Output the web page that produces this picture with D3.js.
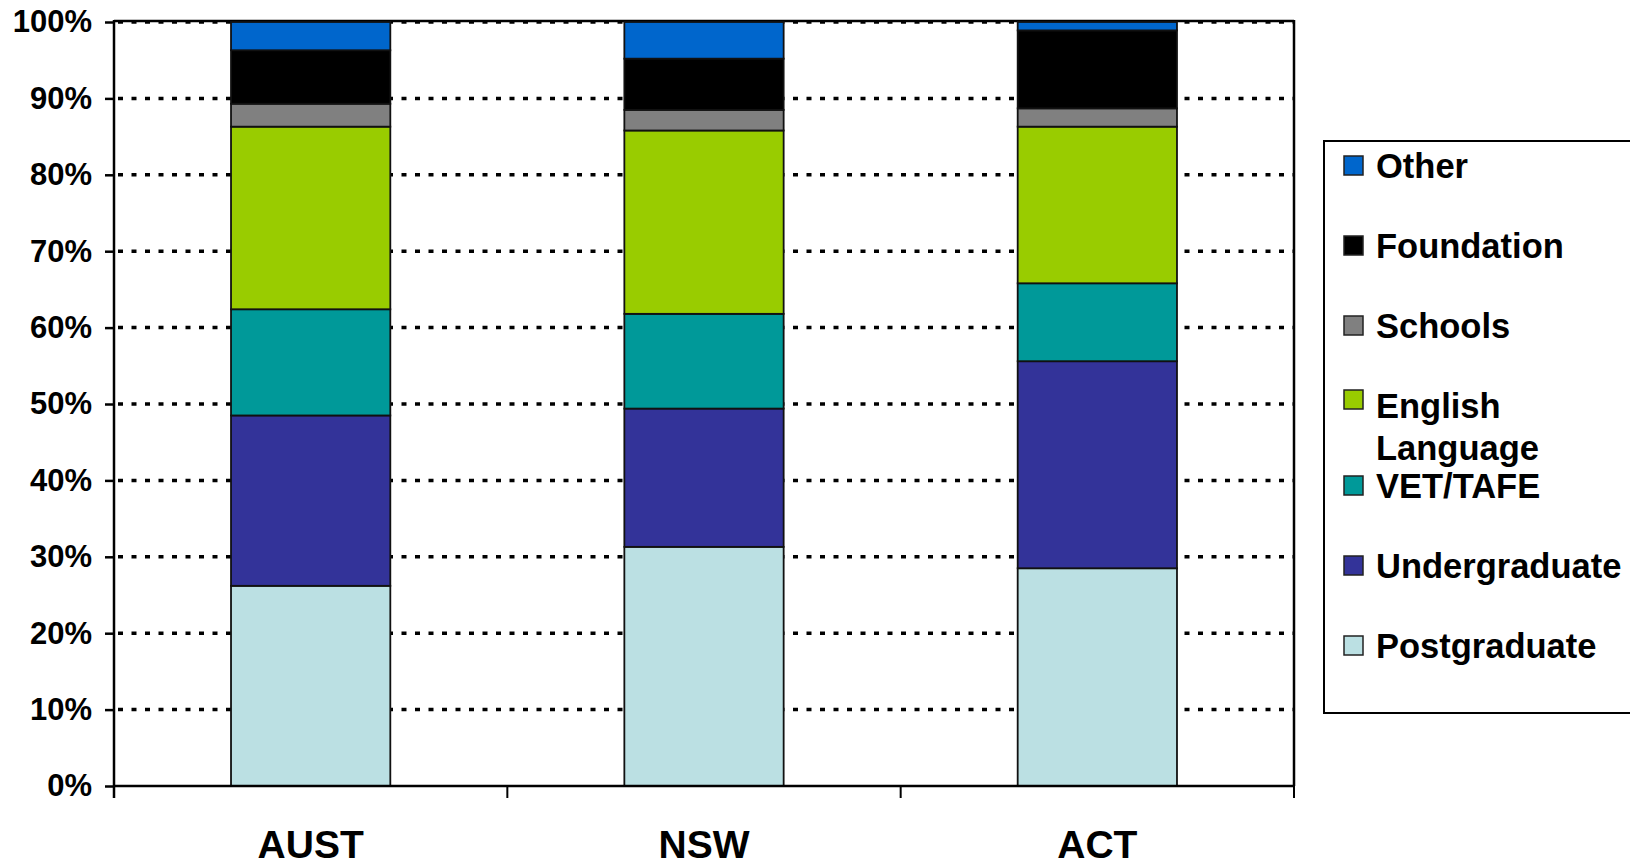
<!DOCTYPE html>
<html>
<head>
<meta charset="utf-8">
<script src="https://cdn.jsdelivr.net/npm/d3@7"></script>
<style>
  body { margin: 0; background: #fff; }
  svg { display: block; font-family: "Liberation Sans", Arial, sans-serif; font-weight: bold; }
</style>
</head>
<body>
<div id="chart"></div>
<script>
// categories and series (percent share, bottom to top)
var categories = ["AUST", "NSW", "ACT"];
var seriesNames = ["Postgraduate", "Undergraduate", "VET/TAFE", "English Language", "Schools", "Foundation", "Other"];
var seriesColors = ["#bbe0e3", "#333399", "#009999", "#99cc00", "#808080", "#000000", "#0066cc"];

var postgraduate  = [26.2, 31.3, 28.5];
var undergraduate = [22.3, 18.1, 27.1];
var vetTafe       = [13.9, 12.4, 10.2];
var english       = [23.9, 24.0, 20.5];
var schools       = [3.0, 2.7, 2.4];
var foundation    = [7.0, 6.7, 10.2];
var other         = [3.7, 4.8, 1.1];

var yTicks = [0, 10, 20, 30, 40, 50, 60, 70, 80, 90, 100];

// build table for d3.stack
var seriesValues = [postgraduate, undergraduate, vetTafe, english, schools, foundation, other];
var table = categories.map(function(c, i) {
    var row = { cat: c };
    seriesNames.forEach(function(s, j) { row[s] = seriesValues[j][i]; });
    return row;
});

// dimensions (plot area edges)
var W = 1630, H = 865;
var pLeft = 114, pRight = 1294, pTop = 22, pBottom = 786;

var svg = d3.select("#chart").append("svg")
    .attr("width", W)
    .attr("height", H);

var x = d3.scaleBand()
    .domain(categories)
    .range([pLeft, pRight])
    .paddingInner(0.595)
    .paddingOuter(0.2975);

var y = d3.scaleLinear()
    .domain([0, 100])
    .range([pBottom, pTop]);

var color = d3.scaleOrdinal().domain(seriesNames).range(seriesColors);

// gridlines (dotted)
svg.append("g")
    .selectAll("line")
    .data(yTicks.filter(function(d) { return d > 0; }))
    .enter()
    .append("line")
    .attr("x1", pLeft + 4)
    .attr("x2", pRight)
    .attr("y1", function(d) { return y(d); })
    .attr("y2", function(d) { return y(d); })
    .attr("stroke", "#000")
    .attr("stroke-width", 3.5)
    .attr("stroke-dasharray", "5,8.5");

// plot frame top and right
svg.append("line")
    .attr("x1", pLeft).attr("x2", pRight)
    .attr("y1", pTop - 1).attr("y2", pTop - 1)
    .attr("stroke", "#000").attr("stroke-width", 2.5);
svg.append("line")
    .attr("x1", pRight).attr("x2", pRight)
    .attr("y1", pTop - 2).attr("y2", pBottom)
    .attr("stroke", "#000").attr("stroke-width", 2.5);

// stacked bars
var stacked = d3.stack().keys(seriesNames)(table);

svg.append("g")
    .selectAll("g")
    .data(stacked)
    .enter()
    .append("g")
    .attr("fill", function(d) { return color(d.key); })
    .selectAll("rect")
    .data(function(d) { return d; })
    .enter()
    .append("rect")
    .attr("x", function(d) { return x(d.data.cat); })
    .attr("width", x.bandwidth())
    .attr("y", function(d) { return y(d[1]); })
    .attr("height", function(d) { return y(d[0]) - y(d[1]); })
    .attr("stroke", "#111")
    .attr("stroke-width", 1.8);

// Y axis
var yAxis = svg.append("g")
    .attr("transform", "translate(" + pLeft + ",0)")
    .call(d3.axisLeft(y)
        .tickValues(yTicks)
        .tickSize(9)
        .tickSizeOuter(0)
        .tickPadding(13)
        .tickFormat(function(d) { return d + "%"; }));
yAxis.select(".domain").attr("stroke-width", 2.5).attr("d", "M0," + (pTop - 2) + "V" + (pBottom + 12));
yAxis.selectAll(".tick line").attr("stroke-width", 2.5);
yAxis.selectAll("text")
    .style("font-size", "31px")
    .style("font-family", "'Liberation Sans', Arial, sans-serif")
    .style("font-weight", "bold")
    .attr("fill", "#000");

// X axis
var xAxis = svg.append("g")
    .attr("transform", "translate(0," + pBottom + ")")
    .call(d3.axisBottom(x).tickSize(0).tickSizeOuter(0));
xAxis.select(".domain").attr("stroke-width", 2.5).attr("d", "M" + pLeft + ",0H" + pRight);
xAxis.selectAll("text")
    .attr("y", 72)
    .attr("dy", 0)
    .style("font-size", "39px")
    .style("font-family", "'Liberation Sans', Arial, sans-serif")
    .style("font-weight", "bold")
    .attr("fill", "#000");

// category boundary ticks
svg.append("g")
    .selectAll("line")
    .data(d3.range(1, categories.length + 1))
    .enter()
    .append("line")
    .attr("x1", function(i) { return pLeft + i * x.step(); })
    .attr("x2", function(i) { return pLeft + i * x.step(); })
    .attr("y1", pBottom)
    .attr("y2", pBottom + 12)
    .attr("stroke", "#000")
    .attr("stroke-width", 2);

// legend
var legend = svg.append("g");
legend.append("rect")
    .attr("x", 1324)
    .attr("y", 141)
    .attr("width", 400)
    .attr("height", 572)
    .attr("fill", "#fff")
    .attr("stroke", "#000")
    .attr("stroke-width", 2);

var legendItems = seriesNames.slice().reverse();

var item = legend.selectAll(".item")
    .data(legendItems)
    .enter()
    .append("g")
    .attr("class", "item")
    .attr("transform", function(d, i) { return "translate(0," + (166 + i * 80) + ")"; });

item.append("rect")
    .attr("x", 1344)
    .attr("y", function(d) { return d === "English Language" ? -16 : -10; })
    .attr("width", 19)
    .attr("height", 19)
    .attr("fill", function(d) { return color(d); })
    .attr("stroke", "#222")
    .attr("stroke-width", 1.5);

item.append("text")
    .attr("x", 1376)
    .attr("y", 12)
    .style("font-size", "34.5px")
    .attr("fill", "#000")
    .each(function(d) {
        var t = d3.select(this);
        if (d === "English Language") {
            t.append("tspan").attr("x", 1376).text("English");
            t.append("tspan").attr("x", 1376).attr("dy", 42).text("Language");
        } else {
            t.text(d);
        }
    });
</script>
</body>
</html>
